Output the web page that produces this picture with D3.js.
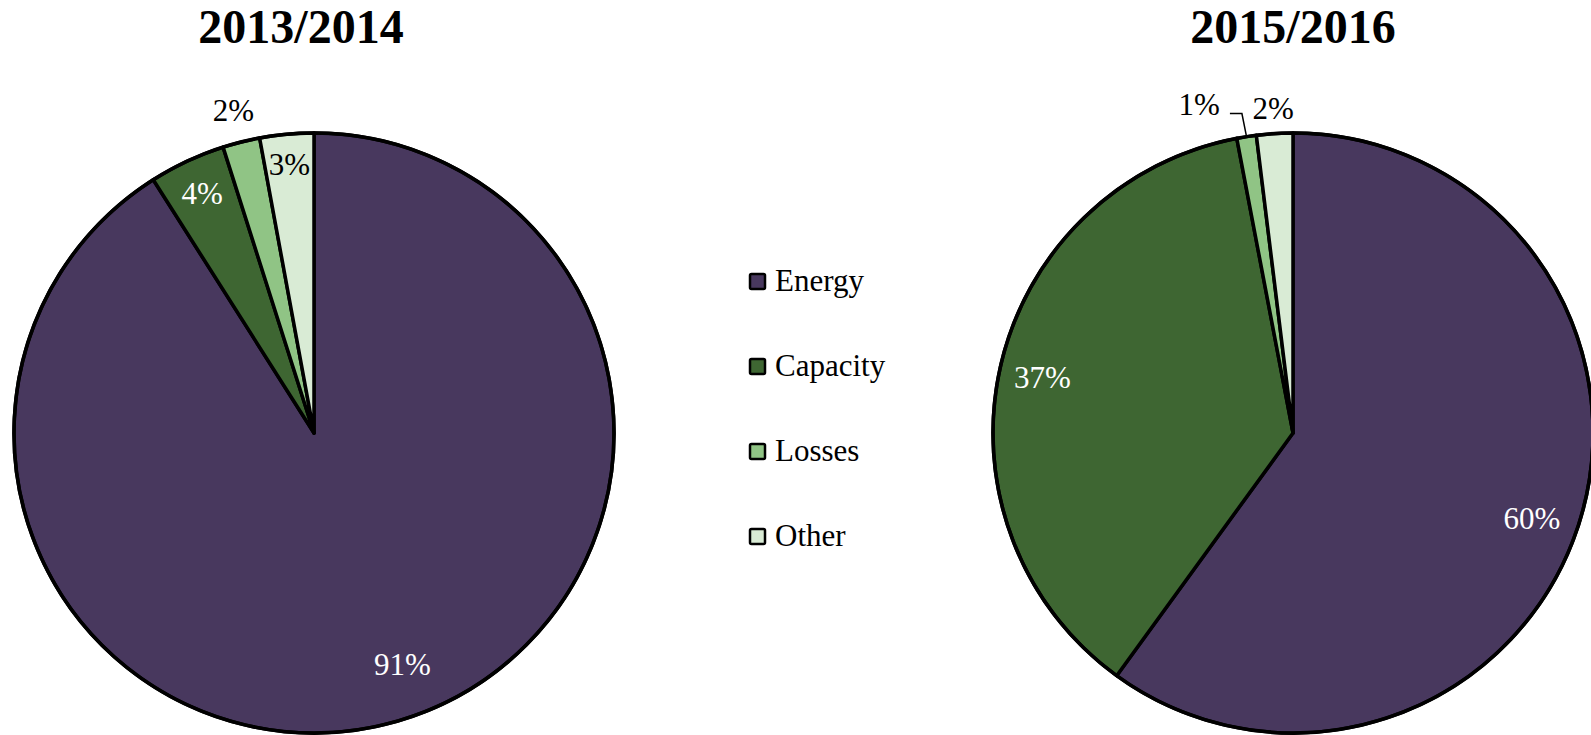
<!DOCTYPE html>
<html>
<head>
<meta charset="utf-8">
<script src="https://cdn.jsdelivr.net/npm/d3@7"></script>
<style>
  html, body { margin: 0; padding: 0; background: #fff; }
  svg text { font-family: "Times New Roman", "Liberation Serif", "DejaVu Serif", serif; }
</style>
</head>
<body>
<div id="chart"></div>
<script>
const categories = ['Energy', 'Capacity', 'Losses', 'Other'];
const years = ['2013/2014', '2015/2016'];
const share1314 = [91.0, 4.1, 2.0, 2.9];
const share1516 = [60.0, 37.0, 1.05, 1.95];
const colors = ['#48385e', '#3e6632', '#90c485', '#d9ebd5'];
const labelInk = ['#fff', '#fff', '#000', '#000'];

const W = 1591, H = 735, R = 300;
const FONT = '"Times New Roman", "Liberation Serif", "DejaVu Serif", serif';
const svg = d3.select('#chart').append('svg').attr('width', W).attr('height', H);

// label placement, as radius fraction + angle nudge (degrees) per slice
const pies = [
  { title: years[0], values: share1314, cx: 314, cy: 433, tx: 301,
    lr: [0.826, 0.881, 1.108, 0.899], da: [-4.7, 0, 0, 0], leader: [] },
  { title: years[1], values: share1516, cx: 1293, cy: 433, tx: 1293,
    lr: [0.845, 0.856, 1.14, 1.084], da: [1.6, 0, -7, 0], leader: [2] }
];

const pie = d3.pie().sort(null).value(d => d);
const arc = d3.arc().innerRadius(0).outerRadius(R);
const color = d3.scaleOrdinal().domain(categories).range(colors);

pies.forEach(p => {
  const g = svg.append('g').attr('transform', `translate(${p.cx},${p.cy})`);
  const arcs = pie(p.values);
  const total = d3.sum(p.values);

  g.selectAll('path.slice').data(arcs).join('path')
    .attr('class', 'slice')
    .attr('d', arc)
    .attr('fill', (d, i) => color(categories[i]))
    .attr('stroke', '#000').attr('stroke-width', 3.5)
    .attr('stroke-linejoin', 'round');

  g.append('circle').attr('r', R).attr('fill', 'none')
    .attr('stroke', '#000').attr('stroke-width', 3.5);

  arcs.forEach((d, i) => {
    const th = (d.startAngle + d.endAngle) / 2 + p.da[i] * Math.PI / 180;
    const rr = R * p.lr[i];
    const x = rr * Math.sin(th), y = -rr * Math.cos(th);
    const t = g.append('text')
      .attr('x', x).attr('y', y).attr('dy', '0.34em')
      .attr('text-anchor', 'middle')
      .attr('font-family', FONT)
      .attr('font-size', 31)
      .attr('fill', labelInk[i])
      .text(Math.round(d.value / total * 100) + '%');
    if (p.leader.includes(i)) {
      const bb = t.node().getBBox();
      const mid = (d.startAngle + d.endAngle) / 2;
      const x0 = bb.x + bb.width + 10, y0 = y + 9.5;
      g.append('path')
        .attr('d', d3.line()([[x0, y0], [x0 + 12, y0], [R * Math.sin(mid), -R * Math.cos(mid)]]))
        .attr('fill', 'none').attr('stroke', '#000').attr('stroke-width', 1.5);
    }
  });

  svg.append('text')
    .attr('x', p.tx).attr('y', 43)
    .attr('text-anchor', 'middle')
    .attr('font-family', FONT)
    .attr('font-size', 48).attr('font-weight', 700)
    .text(p.title);
});

// legend
const lg = svg.append('g').attr('transform', 'translate(749,291)');
const rows = lg.selectAll('g').data(categories).join('g')
  .attr('transform', (d, i) => `translate(0,${i * 85})`);
rows.append('rect')
  .attr('x', 1).attr('y', -17).attr('width', 15).attr('height', 15)
  .attr('rx', 1.5)
  .attr('fill', d => color(d))
  .attr('stroke', '#000').attr('stroke-width', 2.5);
rows.append('text')
  .attr('x', 26).attr('y', 0)
  .attr('font-family', FONT)
  .attr('font-size', 31)
  .text(d => d);
</script>
</body>
</html>
